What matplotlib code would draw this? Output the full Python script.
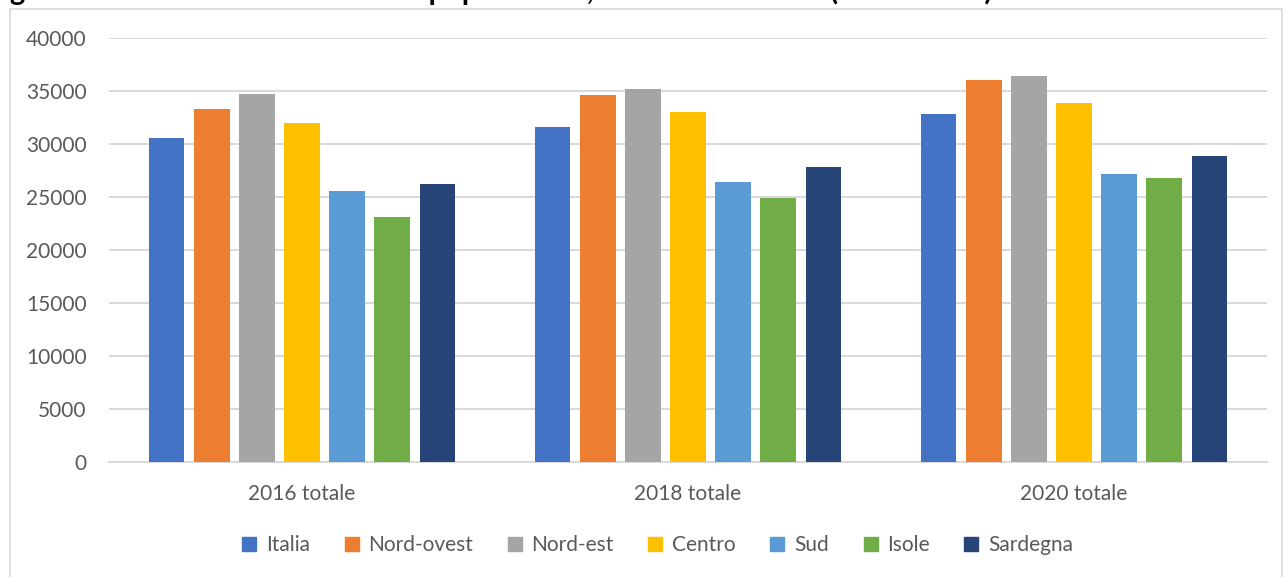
import matplotlib
matplotlib.use("Agg")
import matplotlib.pyplot as plt
from matplotlib.patches import Rectangle
from matplotlib.lines import Line2D
import numpy as np

# dati
categories = ["2016 totale", "2018 totale", "2020 totale"]
series = ["Italia", "Nord-ovest", "Nord-est", "Centro", "Sud", "Isole", "Sardegna"]
italia = [30600, 31600, 32830]
nord_ovest = [33270, 34650, 36010]
nord_est = [34690, 35160, 36440]
centro = [32010, 32990, 33840]
sud = [25600, 26390, 27170]
isole = [23140, 24930, 26790]
sardegna = [26250, 27800, 28840]
yticks = [0, 5000, 10000, 15000, 20000, 25000, 30000, 35000, 40000]

colors = ["#4472C4", "#ED7D31", "#A5A5A5", "#FFC000", "#5B9BD5", "#70AD47", "#264478"]
values = [italia, nord_ovest, nord_est, centro, sud, isole, sardegna]

plt.rcParams["font.family"] = ["Lato", "DejaVu Sans"]
text_col = "#595959"
grid_col = "#D9D9D9"

W, H = 1285, 577
fig = plt.figure(figsize=(W / 100, H / 100), dpi=100)
ax = fig.add_axes([109 / W, 1 - 462 / H, (1267 - 109) / W, (462 - 38) / H])

x = np.arange(len(categories))
bar_w = 0.093
step = 0.117
for i, (name, vals) in enumerate(zip(series, values)):
    ax.bar(x + (i - 3) * step, vals, bar_w, color=colors[i], label=name, zorder=3)

ax.set_xlim(-0.5, 2.5)
ax.set_ylim(0, 40000)
ax.set_yticks(yticks)
ax.set_xticks(x)
ax.set_xticklabels(categories)
ax.tick_params(axis="both", length=0, labelsize=15, colors=text_col)
ax.tick_params(axis="y", pad=16)
ax.tick_params(axis="x", pad=16)
ax.grid(axis="y", color=grid_col, linewidth=1.4, zorder=0)
for s in ["top", "right", "left"]:
    ax.spines[s].set_visible(False)
ax.spines["bottom"].set_color(grid_col)
ax.spines["bottom"].set_linewidth(1.4)

# legenda
handles = [Line2D([], [], marker="s", linestyle="none", markersize=10,
                  markerfacecolor=c, markeredgecolor=c) for c in colors]
fig.legend(handles, series, loc="center", bbox_to_anchor=(657 / W, 1 - 545 / H),
           ncol=7, frameon=False, fontsize=15, labelcolor=text_col,
           handlelength=0.8, handletextpad=0.4, columnspacing=1.6)

# cornice del grafico
fig.patches.append(Rectangle((10 / W, -0.1), (1282 - 10) / W, 1 - 9 / H + 0.1,
                             transform=fig.transFigure, fill=False,
                             edgecolor=grid_col, linewidth=1.2))

# titolo (tagliato in alto)
fig.text(-14 / W, 1 - 0 / H, "Figura 5.11 – Reddito medio della popolazione, dati totali in euro (2016-2020)",
         fontsize=21, fontweight="bold", color="black", ha="left", va="baseline")

fig.savefig("out.png", dpi=100)
